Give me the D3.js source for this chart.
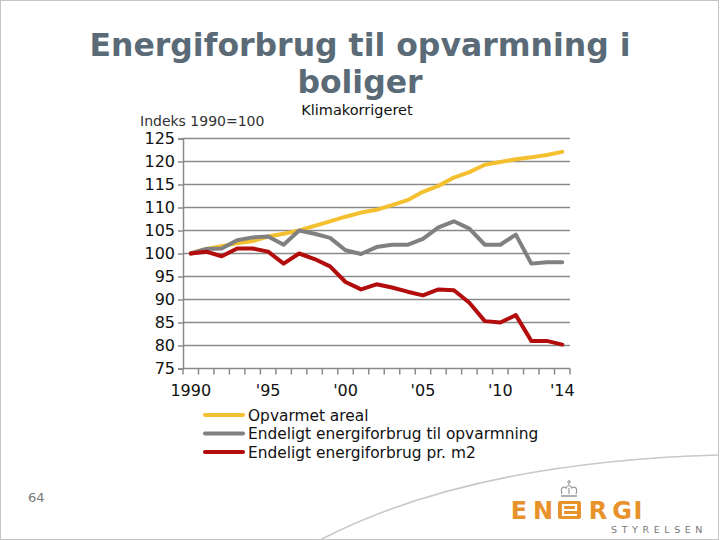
<!DOCTYPE html>
<html>
<head>
<meta charset="utf-8">
<script src="https://cdn.jsdelivr.net/npm/d3@7"></script>
<style>
  body { margin: 0; background: #fff; }
  svg { display: block; }
</style>
</head>
<body>
<div id="chart"></div>
<script>
// years on the category axis
const years = d3.range(1990, 2015);
const yearLabels = ["1990", "'95", "'00", "'05", "'10", "'14"];
const labelYears = [1990, 1995, 2000, 2005, 2010, 2014];

// index values, 1990 = 100
const areal = [100, 101, 101.6, 102.2, 102.7, 103.7, 104.3, 105, 106, 107, 108, 108.9, 109.5, 110.5,
               111.6, 113.4, 114.7, 116.5, 117.7, 119.3, 119.9, 120.5, 120.9, 121.4, 122.1];
const forbrug = [100, 101, 101.1, 102.9, 103.5, 103.7, 101.9, 105, 104.3, 103.4, 100.7, 99.9, 101.4, 101.9,
                 101.9, 103.2, 105.7, 107, 105.4, 101.9, 101.9, 104.1, 97.8, 98.1, 98.1];
const prM2 = [100, 100.4, 99.4, 101.1, 101.1, 100.4, 97.8, 100, 98.8, 97.2, 93.8, 92.2, 93.3, 92.6,
              91.7, 90.9, 92.2, 92, 89.3, 85.3, 85, 86.6, 81, 81, 80.2];

const yTicks = [75, 80, 85, 90, 95, 100, 105, 110, 115, 120, 125];

const series = [
  { name: "Opvarmet areal", color: "#f4c030", values: areal },
  { name: "Endeligt energiforbrug til opvarmning", color: "#808080", values: forbrug },
  { name: "Endeligt energiforbrug pr. m2", color: "#b20c0c", values: prM2 }
];

const width = 720, height = 540;
const orange = "#e8922c";

const svg = d3.select("#chart").append("svg")
    .attr("width", width)
    .attr("height", height);

// slide frame
svg.append("rect")
    .attr("x", 0.5).attr("y", 0.5)
    .attr("width", 718).attr("height", 539)
    .attr("fill", "#fff").attr("stroke", "#c4c4c4");

// title
svg.append("g")
    .attr("font-family", "DejaVu Sans")
    .attr("font-weight", "bold")
    .attr("font-size", 31.5)
    .attr("fill", "#5a6b77")
    .attr("text-anchor", "middle")
    .selectAll("text")
    .data(["Energiforbrug til opvarmning i", "boliger"])
    .join("text")
    .attr("x", 360)
    .attr("y", (d, i) => 56 + i * 37)
    .text(d => d);

svg.append("text")
    .attr("x", 357).attr("y", 115)
    .attr("text-anchor", "middle")
    .attr("font-family", "DejaVu Sans")
    .attr("font-size", 14.5)
    .attr("fill", "#111")
    .text("Klimakorrigeret");

svg.append("text")
    .attr("x", 140).attr("y", 126)
    .attr("font-family", "DejaVu Sans")
    .attr("font-size", 14)
    .attr("fill", "#333")
    .text("Indeks 1990=100");

// scales
const x = d3.scaleBand().domain(years).range([183, 570]);
const cx = d => x(d) + x.bandwidth() / 2;
const y = d3.scaleLinear().domain([75, 125]).range([368.5, 138.5]);

// gridlines
svg.append("g")
    .attr("stroke", "#8a8a8a")
    .attr("stroke-width", 1.5)
    .selectAll("line")
    .data(yTicks.slice(1))
    .join("line")
    .attr("x1", 183).attr("x2", 570)
    .attr("y1", d => y(d)).attr("y2", d => y(d));

// y axis
const yAxis = svg.append("g")
    .attr("transform", "translate(183,0)")
    .call(d3.axisLeft(y).tickValues(yTicks).tickSize(5).tickPadding(3));
yAxis.select(".domain").attr("stroke", "#8a8a8a").attr("stroke-width", 1.5);
yAxis.selectAll(".tick line").attr("stroke", "#8a8a8a").attr("stroke-width", 1.5);
yAxis.selectAll("text")
    .attr("font-family", "DejaVu Sans")
    .attr("font-size", 16)
    .attr("fill", "#111");

// x axis: ticks between categories, labels on selected years
const xAxisG = svg.append("g").attr("transform", `translate(0,${y(75)})`);
xAxisG.append("line")
    .attr("x1", 183).attr("x2", 570)
    .attr("stroke", "#8a8a8a").attr("stroke-width", 1.5);
xAxisG.selectAll(".tk")
    .data(years.concat([2015]))
    .join("line")
    .attr("class", "tk")
    .attr("x1", d => d === 2015 ? 570 : x(d))
    .attr("x2", d => d === 2015 ? 570 : x(d))
    .attr("y1", 0).attr("y2", 6)
    .attr("stroke", "#8a8a8a").attr("stroke-width", 1.5);
xAxisG.selectAll("text")
    .data(labelYears)
    .join("text")
    .attr("x", d => cx(d))
    .attr("y", 27)
    .attr("text-anchor", "middle")
    .attr("font-family", "DejaVu Sans")
    .attr("font-size", 16)
    .attr("fill", "#111")
    .text((d, i) => yearLabels[i]);

// lines
const line = d3.line()
    .x((d, i) => cx(years[i]))
    .y(d => y(d));

svg.append("g")
    .attr("fill", "none")
    .attr("stroke-width", 4)
    .attr("stroke-linejoin", "round")
    .attr("stroke-linecap", "round")
    .selectAll("path")
    .data(series)
    .join("path")
    .attr("stroke", d => d.color)
    .attr("d", d => line(d.values));

// legend
const legend = svg.append("g")
    .selectAll("g")
    .data(series)
    .join("g")
    .attr("transform", (d, i) => `translate(205,${415 + i * 18.5})`);
legend.append("line")
    .attr("x1", 0).attr("x2", 38)
    .attr("stroke", d => d.color)
    .attr("stroke-width", 4)
    .attr("stroke-linecap", "round");
legend.append("text")
    .attr("x", 43).attr("dy", "0.36em")
    .attr("font-family", "DejaVu Sans")
    .attr("font-size", 15.4)
    .attr("fill", "#111")
    .text(d => d.name);

// page number
svg.append("text")
    .attr("x", 28).attr("y", 502)
    .attr("font-family", "DejaVu Sans")
    .attr("font-size", 13)
    .attr("fill", "#777")
    .text("64");

// decorative arc
svg.append("path")
    .attr("d", "M320,540 Q470,462 719,455")
    .attr("fill", "none")
    .attr("stroke", "#c8c8c8")
    .attr("stroke-width", 1.5);

// logo
const logo = svg.append("g");
const letters = [["E", 519], ["N", 543], ["R", 598], ["G", 622], ["I", 638]];
logo.selectAll("text.l")
    .data(letters)
    .join("text")
    .attr("class", "l")
    .attr("x", d => d[1])
    .attr("y", 519)
    .attr("text-anchor", "middle")
    .attr("font-family", "DejaVu Sans")
    .attr("font-weight", "bold")
    .attr("font-size", 24)
    .attr("fill", orange)
    .text(d => d[0]);
logo.append("rect")
    .attr("x", 558).attr("y", 501).attr("width", 23).attr("height", 18)
    .attr("rx", 2).attr("fill", orange);
logo.append("path")
    .attr("d", "M563,510 H576 V505 H563 V515 H577")
    .attr("fill", "none").attr("stroke", "#fff").attr("stroke-width", 2.2);
logo.append("text")
    .attr("x", 611).attr("y", 532.5)
    .attr("font-family", "DejaVu Sans")
    .attr("font-size", 9.5)
    .attr("letter-spacing", 4.6)
    .attr("fill", "#777")
    .text("STYRELSEN");

// crown
const crown = logo.append("g").attr("stroke", "#9a9a9a").attr("fill", "none").attr("stroke-width", 1.2);
crown.append("path").attr("d", "M569,480 V485 M567,482 H571");
crown.append("path").attr("d", "M562,494 C560,488 563,486 566,488 C567,485 571,485 572,488 C575,486 578,488 576,494");
crown.append("path").attr("d", "M569,488 V494");
crown.append("line").attr("x1", 561).attr("x2", 577).attr("y1", 496).attr("y2", 496).attr("stroke-width", 1.6);
</script>
</body>
</html>
